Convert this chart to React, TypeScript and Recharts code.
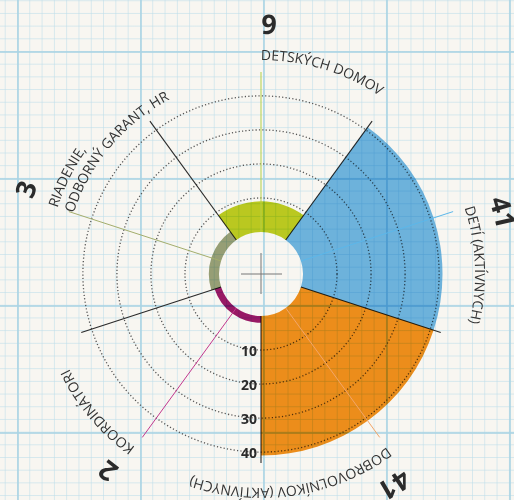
import { RadialBarChart, RadialBar, PolarAngleAxis, PolarRadiusAxis, PolarGrid, Cell } from 'recharts';

const categories = [
  'DETSKÝCH DOMOV',
  'DETÍ (AKTÍVNYCH)',
  'DOBROVOĽNÍKOV (AKTÍVNYCH)',
  'KOORDINÁTORI',
  'RIADENIE, ODBORNÝ GARANT, HR',
];
const counts = [9, 41, 41, 2, 3];
const radiusTicks = [10, 20, 30, 40];

const COLORS = ['#bfd021', '#70b9e8', '#f3921c', '#9c1a6b', '#9aa47c'];
const LINE_COLORS = ['#b3cf45', '#5bb7ea', '#f2a66a', '#c2388e', '#a3ad6c'];

const W = 514;
const H = 500;
const CX = 261;
const CY = 274;
const INNER = 42;
const OUTER = 189;
const START = 126; // recharts degrees (ccw from 3 o'clock), left edge of the first slice
const STEP = 360 / categories.length;
const FONT = '"Open Sans", "DejaVu Sans", sans-serif';

const data = categories.map((name, i) => ({ name, value: counts[i] }));

// slice boundaries, for the black separators
const boundaries = categories.map((_, i) => START - i * STEP);

// compass angle (clockwise from 12 o'clock)
const pt = (r: number, deg: number) => {
  const a = (deg * Math.PI) / 180;
  return { x: CX + r * Math.sin(a), y: CY - r * Math.cos(a) };
};
const arc = (r: number, a0: number, a1: number) => {
  const p = pt(r, a0);
  const q = pt(r, a1);
  return `M${p.x},${p.y} A${r},${r} 0 ${a1 - a0 > 180 ? 1 : 0} 1 ${q.x},${q.y}`;
};
const labelLines = (name: string) => {
  const k = name.indexOf(', ');
  return name.length > 20 && k > 0 ? [name.slice(0, k + 1), name.slice(k + 2)] : [name];
};

function AngleTick(props: any) {
  const i = categories.indexOf(props.payload?.value);
  if (i < 0) return null;
  const mid = 90 - START + STEP / 2 + i * STEP;
  const a = pt(INNER, mid);
  const b = pt(202, mid);
  const lines = labelLines(categories[i]);
  return (
    <g>
      <line x1={a.x} y1={a.y} x2={b.x} y2={b.y} stroke={LINE_COLORS[i]} strokeWidth={1} />
      <path id={`num-${i}`} d={arc(240, mid, mid + 60)} fill="none" stroke="none" />
      <text fontSize={27} fontWeight={700} fill="#2b2b2b" fontFamily={FONT}>
        <textPath href={`#num-${i}`}>{counts[i]}</textPath>
      </text>
      {lines.map((t, k) => (
        <g key={k}>
          <path id={`lbl-${i}-${k}`} d={arc(214 - k * 17, mid, mid + 120)} fill="none" stroke="none" />
          <text fontSize={14} fill="#333" fontFamily={FONT}>
            <textPath href={`#lbl-${i}-${k}`}>{t}</textPath>
          </text>
        </g>
      ))}
    </g>
  );
}

function RadiusTick(props: any) {
  const { x, y, payload } = props;
  return (
    <text x={x - 4} y={y} textAnchor="end" dominantBaseline="central" fontSize={14} fontWeight={700} fill="#2b2b2b" fontFamily={FONT}>
      {payload.value}
    </text>
  );
}

const paper = {
  backgroundColor: '#f8f6f1',
  backgroundImage: [
    'linear-gradient(to right, rgba(170,212,228,0.8) 2px, transparent 2px)',
    'linear-gradient(to bottom, rgba(170,212,228,0.8) 2px, transparent 2px)',
    'linear-gradient(to right, rgba(190,222,234,0.6) 1px, transparent 1px)',
    'linear-gradient(to bottom, rgba(190,222,234,0.6) 1px, transparent 1px)',
  ].join(','),
  backgroundSize: '123px 127px, 123px 127px, 12.3px 12.7px, 12.3px 12.7px',
  backgroundPosition: '17px 51px, 17px 51px, 17px 51px, 17px 51px',
};

export default function App() {
  // recharts draws each band's sector counter-clockwise from its band start,
  // so the clockwise band sequence begins one step earlier
  const chartStart = START - STEP;
  return (
    <div style={{ position: 'absolute', left: 0, top: 0, width: W, height: H, overflow: 'hidden', ...paper }}>
      {/* multiply lets the paper grid, dotted rings and separators show through the slices */}
      <style>{'.recharts-sector{mix-blend-mode:multiply}'}</style>
      <RadialBarChart
        width={W}
        height={H}
        data={data}
        cx={CX}
        cy={CY}
        innerRadius={INNER}
        outerRadius={OUTER}
        startAngle={chartStart}
        endAngle={chartStart - 360}
        layout="centric"
        barCategoryGap={0}
        margin={{ top: 0, right: 0, bottom: 0, left: 0 }}
      >
        <PolarAngleAxis type="category" dataKey="name" axisLine={false} tickLine={false} tick={AngleTick} />
        <PolarRadiusAxis
          type="number"
          domain={[0, 43.2]}
          ticks={radiusTicks}
          angle={-90}
          axisLine={false}
          tickLine={false}
          tick={RadiusTick}
        />
        <RadialBar dataKey="value" isAnimationActive={false}>
          {data.map((_, i) => (
            <Cell key={i} fill={COLORS[i]} />
          ))}
        </RadialBar>
        <PolarGrid gridType="circle" radialLines={false} stroke="#555" strokeWidth={1.3} strokeDasharray="1.2 2.2" />
        <PolarGrid gridType="circle" polarAngles={boundaries} polarRadius={[]} stroke="#2a2a2a" strokeWidth={1.1} />
      </RadialBarChart>
      <svg width={W} height={H} style={{ position: 'absolute', left: 0, top: 0, pointerEvents: 'none' }}>
        <line x1={CX - 20} y1={CY} x2={CX + 21} y2={CY} stroke="#777" strokeWidth={1} />
        <line x1={CX} y1={CY - 21} x2={CX} y2={CY + 20} stroke="#777" strokeWidth={1} />
      </svg>
    </div>
  );
}
